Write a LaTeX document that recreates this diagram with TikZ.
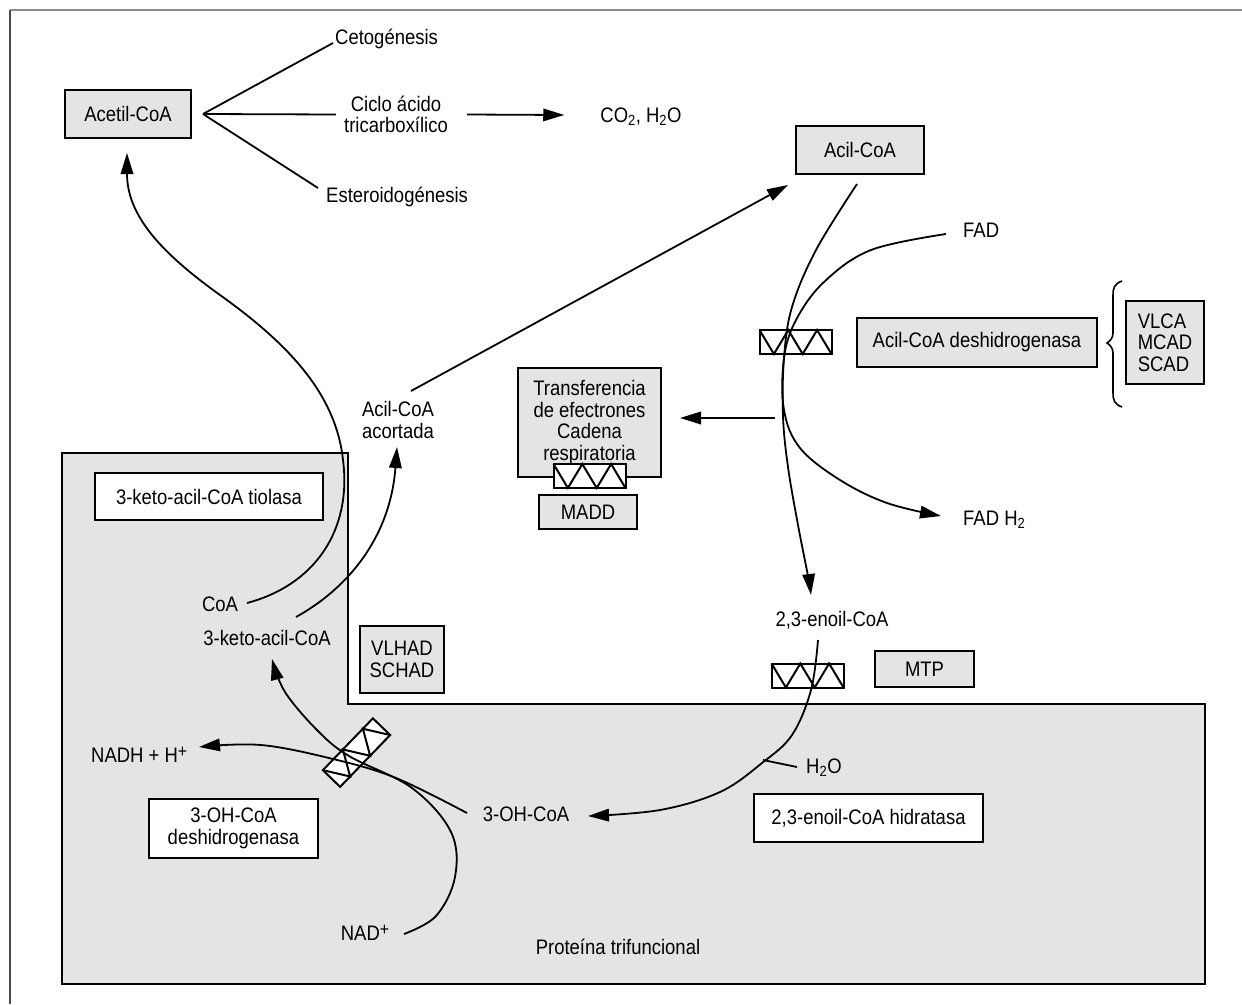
\documentclass[tikz,border=0pt]{standalone}
\usepackage{fontspec}
\setmainfont{Liberation Sans}[FakeStretch=0.88]
\usetikzlibrary{arrows.meta}
\definecolor{boxgray}{HTML}{E4E4E4}
\definecolor{framegray}{HTML}{8C8C8C}
\definecolor{framedark}{HTML}{4A4A4A}
\newcommand{\supplus}{\raisebox{5pt}{\fontsize{18}{18}\selectfont +}}
\tikzset{
  zz/.pic={
    \draw[line width=2pt, fill=white] (-36,-12) rectangle (36,12);
    \draw[line width=2pt] (-36,-12) -- (-21.6,12) -- (-7.2,-12) -- (7.2,12) -- (21.6,-12) -- (36,12);
  }
}
\begin{document}
\begin{tikzpicture}[x=1pt,y=-1pt,
  every node/.style={font=\fontsize{21}{21.5}\selectfont, inner sep=0pt},
  gbox/.style={draw, line width=2pt, fill=boxgray, align=center},
  wbox/.style={draw, line width=2pt, fill=white, align=center},
  lbl/.style={align=center},
  conn/.style={line width=1.8pt},
  arr/.style={conn, -{Triangle[length=21pt,width=12.5pt]}},
]
\useasboundingbox (0,0) rectangle (1242,1004);
\fill[white] (0,0) rectangle (1242,1004);
% outer frame
\draw[framegray, line width=2.5pt] (10,10) -- (1242,10);
\draw[framedark, line width=1.5pt] (10,10) -- (10,1004);
% trifunctional protein region
\draw[line width=2.5pt, fill=boxgray] (62,453) -- (348,453) -- (348,704) -- (1205,704) -- (1205,984) -- (62,984) -- cycle;

% boxes
\node[gbox, minimum width=126pt, minimum height=48pt] (acetil) at (128,114) {Acetil-CoA};
\node[gbox, minimum width=128pt, minimum height=48pt] (acil) at (860,150) {Acil-CoA};
\node[gbox, minimum width=240pt, minimum height=49pt] (acdh) at (977,342.5) {Acil-CoA deshidrogenasa};
\node[gbox, minimum width=78pt, minimum height=83pt, align=left] (vlca) at (1165,342.5) {VLCA\\MCAD\\SCAD};
\node[gbox, minimum width=143pt, minimum height=109pt] (transf) at (589.5,422.5) {Transferencia\\de efectrones\\Cadena\\respiratoria};
\pic (zzT) at (589.5,476) {zz};
\node[gbox, minimum width=98pt, minimum height=34pt] (madd) at (588,512) {MADD};
\pic (zzF) at (795.5,342) {zz};
\pic (zzM) at (807.5,675.5) {zz};
\pic[rotate=46] (zzH) at (356.5,752.6) {zz};
\node[gbox, minimum width=99pt, minimum height=36pt] (mtp) at (924.5,669) {MTP};
\node[wbox, minimum width=228pt, minimum height=47pt] (tiol) at (209,496.5) {3-keto-acil-CoA tiolasa};
\node[gbox, minimum width=84pt, minimum height=67pt] (vlhad) at (402,659.5) {VLHAD\\SCHAD};
\node[wbox, minimum width=169pt, minimum height=59pt] (ohdh) at (233.5,828.5) {3-OH-CoA\\deshidrogenasa};
\node[wbox, minimum width=229pt, minimum height=48pt] (hidr) at (868.5,818) {2,3-enoil-CoA hidratasa};

% brace
\draw[line width=1.6pt] (1122,281) .. controls (1114,284) and (1113,288) .. (1113,296) -- (1113,333) .. controls (1113,338) and (1110,341) .. (1107,343) .. controls (1110,345) and (1113,348) .. (1113,353) -- (1113,392) .. controls (1113,400) and (1114,404) .. (1122,407);

% texts
\node[anchor=base west] (ceto) at (335,44) {Cetogénesis};
\node[lbl] (ciclo) at (396,114.5) {Ciclo ácido\\tricarboxílico};
\node[anchor=base] (co2) at (641,122) {CO\textsubscript{2}, H\textsubscript{2}O};
\node[anchor=base west] (estero) at (326,202) {Esteroidogénesis};
\node[lbl] (acort) at (398,420) {Acil-CoA\\acortada};
\node[anchor=base west] (fad) at (963,237) {FAD};
\node[anchor=base west] (fadh) at (963,525) {FAD H\textsubscript{2}};
\node[anchor=base] (enoil) at (832,626) {2,3-enoil-CoA};
\node[anchor=base] (coa) at (220,611) {CoA};
\node[anchor=base] (keto) at (267,645) {3-keto-acil-CoA};
\node[anchor=base] (oh) at (526,821) {3-OH-CoA};
\node[anchor=base] (nad) at (365,940) {NAD\supplus};
\node[anchor=base west] (nadh) at (91,762) {NADH + H\supplus};
\node[anchor=base west] (h2o) at (806,773) {H\textsubscript{2}O};
\node[anchor=base] (prot) at (618,954) {Proteína trifuncional};

% Acetil-CoA branches
\coordinate (br) at (203,114);
\draw[conn] (br) -- ([shift={(-2,-1)}]ceto.base west);
\draw[conn] (br) -- ([xshift=-8]ciclo.west);
\draw[conn] (br) -- ([shift={(-8,-14)}]estero.base west);
\draw[arr] ([xshift=19]ciclo.east) -- ([shift={(-36,-7)}]co2.base west);

% connectors
\coordinate (coaS) at (247,603);
\coordinate (acetT) at (127,153);
\draw[arr] (coaS) .. controls (315,585) and (352,530) .. (343,460) .. controls (336,395) and (290,345) .. (220,295) .. controls (160,252) and (127,215) .. (acetT);

\coordinate (ketoS) at (296,617);
\coordinate (acortT) at (397,447);
\draw[arr] (ketoS) .. controls (345,590) and (390,540) .. (acortT);

\coordinate (acortS) at (411,391);
\coordinate (acilT) at (788,185);
\draw[arr] (acortS) -- (acilT);

\coordinate (acilS) at (857,184);
\coordinate (enoilT) at (811,595);
\draw[arr] plot[smooth, tension=0.6] coordinates {(acilS) (816,250) (792,307) (784,358) (783,416) (788,467) (798,525) (808,576) (enoilT)};

\coordinate (fadS) at (946,234);
\coordinate (fadhT) at (941,516);
\draw[arr] plot[smooth, tension=0.6] coordinates {(fadS) (871,250) (824,282) (796,320) (784,358) (784,410) (800,448) (840,480) (887,503) (fadhT)};

\coordinate (etS) at (775,418);
\coordinate (etT) at (680,418);
\draw[arr] (etS) -- (etT);

\coordinate (enS) at (818,640);
\coordinate (ohT) at (588,816);
\draw[arr] plot[smooth, tension=0.6] coordinates {(enS) (811,690) (792,735) (762,763) (720,792) (660,810) (ohT)};
\coordinate (h2oS) at (763,760);
\draw[conn] (h2oS) -- ([shift={(-9,-6)}]h2o.base west);

\coordinate (nadS) at (404,934);
\coordinate (ketoT) at (272,659);
\draw[arr] plot[smooth, tension=0.6] coordinates {(nadS) (436,916) (455,877) (451,832) (412,788) (349,756) (317,730) (285,692) (ketoT)};

\coordinate (ohS) at (467,813);
\coordinate (nadhT) at (199,747);
\draw[arr] plot[smooth, tension=0.6] coordinates {(ohS) (396,778) (333,759) (261,745) (nadhT)};
\end{tikzpicture}
\end{document}
